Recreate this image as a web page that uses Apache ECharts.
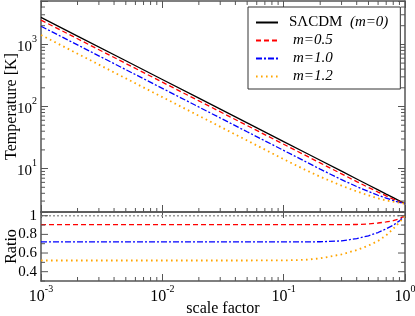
<!DOCTYPE html>
<html><head><meta charset="utf-8">
<script src="https://cdn.jsdelivr.net/npm/echarts@6/dist/echarts.min.js"></script>
<style>html,body{margin:0;padding:0;background:#fff}#c{width:415px;height:316px}</style>
</head><body><div id="c"></div>
<script>
// ---- data ----
const scaleFactor = [0.001,0.002,0.005,0.01,0.02,0.05,0.1,0.15,0.2,0.3,0.4,0.5,0.6,0.7,0.8,0.9,1.0];
const tempLCDM = [2725,1362,545,272.5,136.2,54.5,27.25,18.17,13.62,9.08,6.81,5.45,4.54,3.89,3.41,3.03,2.725];
const tempM05  = [2466,1233,493,246.6,123.3,49.3,24.66,16.44,12.33,8.22,6.17,4.97,4.19,3.63,3.23,2.93,2.725];
const tempM10  = [1962,981,392,196.2,98.1,39.2,19.62,13.08,9.81,6.63,5.14,4.28,3.72,3.35,3.06,2.86,2.725];
const tempM12  = [1417,708.5,283.4,141.7,70.9,28.3,14.17,9.58,7.40,5.31,4.30,3.71,3.31,3.07,2.93,2.82,2.725];
const ratioLCDM = [1,1,1,1,1,1,1,1,1,1,1,1,1,1,1,1,1];
const ratioM05  = [0.905,0.905,0.905,0.905,0.905,0.905,0.905,0.905,0.905,0.905,0.906,0.912,0.922,0.933,0.947,0.968,1.0];
const ratioM10  = [0.72,0.72,0.72,0.72,0.72,0.72,0.72,0.72,0.721,0.73,0.755,0.785,0.82,0.86,0.898,0.945,1.0];
const ratioM12  = [0.52,0.52,0.52,0.52,0.52,0.52,0.521,0.527,0.543,0.585,0.632,0.68,0.73,0.79,0.86,0.93,1.0];
const seriesNames = ['S\u039bCDM','m=0.5','m=1.0','m=1.2'];
const xTickExponents = [-3,-2,-1,0];
const tempTickExponents = [1,2,3];
const ratioTickLabels = [0.4,0.6,0.8,1];

// ---- helpers ----
const FONT = 'Liberation Serif';
const FRAME = '#555';
const zip = (xs, ys) => xs.map((x,i)=>[x, ys[i]]);
const supRich = (bs, ss) => ({
  b:{fontFamily:FONT,fontSize:bs,color:'#000',lineHeight:bs+5,verticalAlign:'bottom'},
  s:{fontFamily:FONT,fontSize:ss,color:'#000',lineHeight:ss+1,verticalAlign:'top'}
});
function powLabel(list){
  return v => { const e = Math.round(Math.log10(v));
    if (Math.abs(Math.pow(10,e)-v)/v > 1e-6 || list.indexOf(e) < 0) return '';
    return '{b|10}{s|' + e + '}'; };
}
// minor tick positions (axis decoration)
const xMinor = []; for (let d=-3; d<0; d++) for (let k=2;k<=9;k++) xMinor.push([k*Math.pow(10,d)]);
const yMinor = []; for (let d=0; d<4; d++) for (let k=2;k<=9;k++){ const v=k*Math.pow(10,d); if (v>2 && v<5000) yMinor.push([v]); }
const rTicks = []; for (let k=3;k<=10;k++) rTicks.push([k/10]);

function xTicks(len, top, bottom){
  return function(params, api){
    const cs = params.coordSys;
    const x = api.coord([api.value(0), api.value(1)])[0];
    const ch = [];
    if (bottom) ch.push({type:'line',shape:{x1:x,y1:cs.y+cs.height,x2:x,y2:cs.y+cs.height-len},style:{stroke:FRAME,lineWidth:1}});
    if (top) ch.push({type:'line',shape:{x1:x,y1:cs.y,x2:x,y2:cs.y+len},style:{stroke:FRAME,lineWidth:1}});
    return {type:'group',children:ch};
  };
}
function yTicks(lenFn){
  return function(params, api){
    const cs = params.coordSys;
    const v = api.value(1);
    const y = api.coord([api.value(0), v])[1];
    const len = lenFn(v);
    return {type:'group',children:[
      {type:'line',shape:{x1:cs.x,y1:y,x2:cs.x+len,y2:y},style:{stroke:FRAME,lineWidth:1}},
      {type:'line',shape:{x1:cs.x+cs.width,y1:y,x2:cs.x+cs.width-len,y2:y},style:{stroke:FRAME,lineWidth:1}}
    ]};
  };
}

const axisLineStyle = {show:true, lineStyle:{color:FRAME, width:1.5}};
const xBase = {type:'log', logBase:10, min:0.001, max:1, splitLine:{show:false},
  axisLine:axisLineStyle, axisTick:{show:true, inside:true, length:7, lineStyle:{color:FRAME}}, axisLabel:{show:false}};

const chart = echarts.init(document.getElementById('c'), null, {renderer:'canvas'});
const lineStyles = [
  {color:'#000', width:1.3, type:'solid'},
  {color:'#ff0000', width:1.3, type:[5,3]},
  {color:'#0000ff', width:1.3, type:[6,2,2,2]},
  {color:'#ffa500', width:1.8, type:[1.6,3.4]}
];
const topData = [tempLCDM, tempM05, tempM10, tempM12];
const ratioData = [ratioM05, ratioM10, ratioM12];

const series = [];
topData.forEach((d,i)=>series.push({name:seriesNames[i], type:'line', xAxisIndex:0, yAxisIndex:0,
  data:zip(scaleFactor,d), showSymbol:false, symbol:'none', smooth:false,
  lineStyle:lineStyles[i], itemStyle:{color:lineStyles[i].color}, z:3, animation:false}));
series.push({name:'ratio-ref', type:'line', xAxisIndex:2, yAxisIndex:2, data:zip(scaleFactor,ratioLCDM),
  symbol:'none', lineStyle:{color:'#999', width:1.5, type:[2,2]}, z:2, animation:false});
ratioData.forEach((d,i)=>series.push({name:'ratio-'+seriesNames[i+1], type:'line', xAxisIndex:2, yAxisIndex:2,
  data:zip(scaleFactor,d), symbol:'none', smooth:false, lineStyle:lineStyles[i+1],
  itemStyle:{color:lineStyles[i+1].color}, z:3, animation:false}));
// minor ticks
series.push({type:'custom', xAxisIndex:0, yAxisIndex:0, silent:true, animation:false, z:5,
  data:xMinor.map(a=>[a[0],10]), encode:{x:0,y:1}, renderItem:xTicks(4,true,true)});
series.push({type:'custom', xAxisIndex:2, yAxisIndex:2, silent:true, animation:false, z:5,
  data:xMinor.map(a=>[a[0],0.5]), encode:{x:0,y:1}, renderItem:xTicks(4,false,true)});
series.push({type:'custom', xAxisIndex:0, yAxisIndex:0, silent:true, animation:false, z:5,
  data:yMinor.map(a=>[0.01,a[0]]), encode:{x:0,y:1}, renderItem:yTicks(()=>4)});
series.push({type:'custom', xAxisIndex:2, yAxisIndex:2, silent:true, animation:false, z:5,
  data:rTicks.map(a=>[0.01,a[0]]), encode:{x:0,y:1},
  renderItem:yTicks(v=>(Math.round(v*10)%2===0 ? 7 : 4))});

chart.setOption({
  animation:false,
  backgroundColor:'#fff',
  grid:[
    {left:41, right:10, top:1, height:211, outerBoundsMode:'none', containLabel:false},
    {left:41, right:10, top:212, height:69, outerBoundsMode:'none', containLabel:false}
  ],
  xAxis:[
    Object.assign({}, xBase, {gridIndex:0, position:'bottom'}),
    Object.assign({}, xBase, {gridIndex:0, position:'top'}),
    Object.assign({}, xBase, {gridIndex:1, position:'bottom',
      axisLabel:{show:true, margin:3, formatter:powLabel(xTickExponents), rich:supRich(16,10)},
      name:'scale factor', nameLocation:'middle', nameGap:20, nameMoveOverlap:false,
      nameTextStyle:{fontFamily:FONT, fontSize:16, color:'#000'}}),
    Object.assign({}, xBase, {gridIndex:1, position:'top',
      axisTick:{show:true, inside:true, length:6, lineStyle:{color:FRAME}}})
  ],
  yAxis:[
    {type:'log', logBase:10, gridIndex:0, min:2, max:5000, position:'left', splitLine:{show:false},
      axisLine:axisLineStyle, axisTick:{show:true, inside:true, length:7, lineStyle:{color:FRAME}},
      axisLabel:{show:true, margin:4, formatter:powLabel(tempTickExponents), rich:supRich(15,10)},
      name:'Temperature [K]', nameLocation:'middle', nameGap:21, nameRotate:90, nameMoveOverlap:false,
      nameTextStyle:{fontFamily:FONT, fontSize:16, color:'#000'}},
    {type:'log', logBase:10, gridIndex:0, min:2, max:5000, position:'right', splitLine:{show:false},
      axisLine:axisLineStyle, axisTick:{show:true, inside:true, length:7, lineStyle:{color:FRAME}}, axisLabel:{show:false}},
    {type:'value', gridIndex:1, min:0.3, max:1.04, interval:0.1, position:'left', splitLine:{show:false},
      axisLine:axisLineStyle, axisTick:{show:false},
      axisLabel:{show:true, margin:4, fontFamily:FONT, fontSize:15, color:'#000',
        formatter:v=>{ const r=Math.round(v*10)/10; return ratioTickLabels.indexOf(r)>=0 && Math.abs(r-v)<1e-6 ? String(r) : ''; }},
      name:'Ratio', nameLocation:'middle', nameGap:21, nameRotate:90, nameMoveOverlap:false,
      nameTextStyle:{fontFamily:FONT, fontSize:16, color:'#000'}},
    {type:'value', gridIndex:1, min:0.3, max:1.04, interval:0.1, position:'right', splitLine:{show:false},
      axisLine:axisLineStyle, axisTick:{show:false}, axisLabel:{show:false}}
  ],
  legend:{
    data:seriesNames, orient:'vertical', left:248, top:7,
    padding:[8,12,5,7], itemGap:3, itemWidth:22, itemHeight:14,
    backgroundColor:'#fff', borderColor:'#333', borderWidth:1, borderRadius:0,
    selectedMode:false,
    itemStyle:{opacity:0, color:'rgba(0,0,0,0)', borderWidth:0},
    formatter:n => n===seriesNames[0] ? '{n|'+n+'}  {i|(m=0)}' : '{j|'+n+'}',
    textStyle:{fontFamily:FONT, fontSize:15, color:'#000', padding:[0,0,0,6],
      rich:{n:{fontFamily:FONT,fontSize:15,color:'#000'},
            i:{fontFamily:FONT,fontSize:15,fontStyle:'italic',color:'#000'},
            j:{fontFamily:FONT,fontSize:15,fontStyle:'italic',color:'#000',padding:[0,0,0,4]}}}
  },
  series:series
});
</script></body></html>
